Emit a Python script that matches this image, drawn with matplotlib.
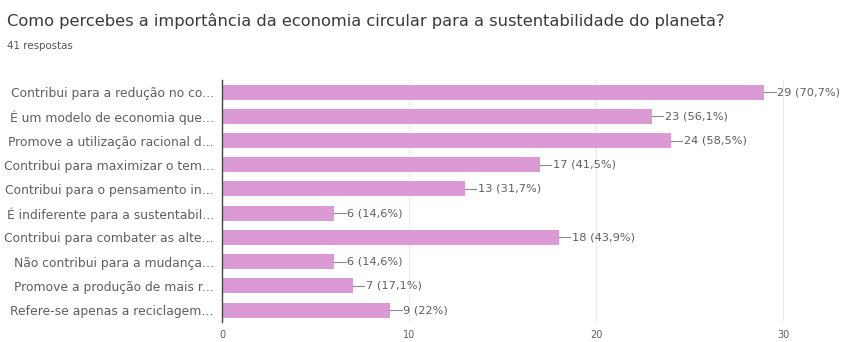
import matplotlib.pyplot as plt
import numpy as np

# dados do formulário
labels = [
    "Contribui para a redução no co...",
    "É um modelo de economia que...",
    "Promove a utilização racional d...",
    "Contribui para maximizar o tem...",
    "Contribui para o pensamento in...",
    "É indiferente para a sustentabil...",
    "Contribui para combater as alte...",
    "Não contribui para a mudança...",
    "Promove a produção de mais r...",
    "Refere-se apenas a reciclagem...",
]
counts = [29, 23, 24, 17, 13, 6, 18, 6, 7, 9]
pcts = ["70,7%", "56,1%", "58,5%", "41,5%", "31,7%", "14,6%", "43,9%", "14,6%", "17,1%", "22%"]
ticks = [0, 10, 20, 30]

bar_col = "#db9ad5"
txt_col = "#5f5f5f"

fig = plt.figure(figsize=(8.51, 3.42), dpi=100)
ax = fig.add_axes([0.261, 0.058, 0.725, 0.708])

y = np.arange(len(labels))
ax.barh(y, counts, height=0.62, color=bar_col, zorder=2)

for yi, c, p in zip(y, counts, pcts):
    ax.plot([c, c + 0.6], [yi, yi], color="#888888", lw=0.8, zorder=3)
    ax.text(c + 0.7, yi, f"{c} ({p})", va="center", ha="left",
            fontsize=8.2, color=txt_col)

ax.set_xlim(0, 33)
ax.set_ylim(len(labels) - 0.5, -0.5)
ax.set_yticks(y)
ax.set_yticklabels(labels, fontsize=8.9, color=txt_col)
ax.set_xticks(ticks)
ax.set_xticklabels([str(t) for t in ticks], fontsize=7, color=txt_col)
ax.tick_params(length=0, pad=6)
ax.grid(axis="x", color="#ebebeb", lw=0.8, zorder=0)
for s in ["top", "right", "bottom"]:
    ax.spines[s].set_visible(False)
ax.spines["left"].set_color("#444444")
ax.spines["left"].set_linewidth(1.0)

fig.text(0.008, 0.94, "Como percebes a importância da economia circular para a sustentabilidade do planeta?",
         fontsize=11.7, color="#3a3a3a", va="center", ha="left")
fig.text(0.008, 0.865, "41 respostas", fontsize=7.4, color="#555555", va="center", ha="left")

fig.savefig("out.png", dpi=100, facecolor="white")
